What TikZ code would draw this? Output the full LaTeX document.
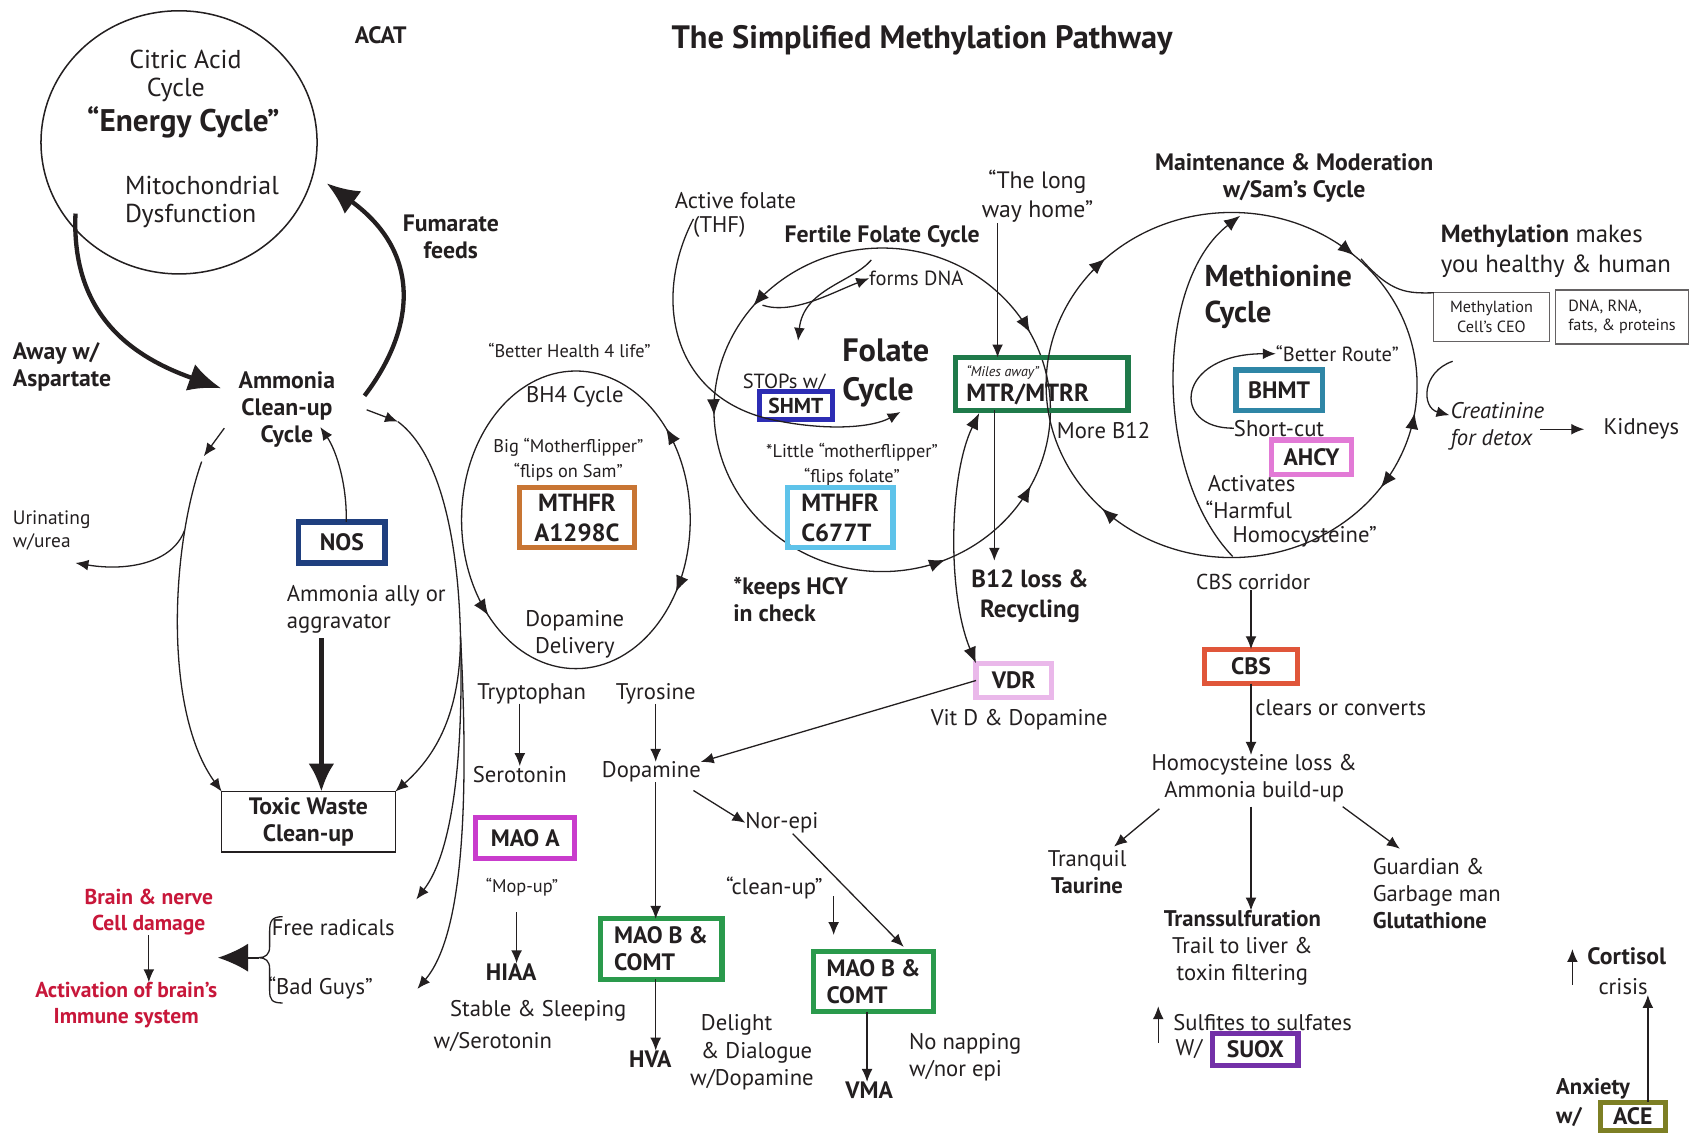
\documentclass[tikz,border=0pt]{standalone}
\usepackage{fontspec}
\setmainfont{PT Sans}
\usetikzlibrary{arrows.meta,calc,shapes.geometric}
\definecolor{ink}{HTML}{231F20}
\definecolor{cnavy}{HTML}{1F3F7F}
\definecolor{corange}{HTML}{C87533}
\definecolor{cblue}{HTML}{2D2DB4}
\definecolor{clblue}{HTML}{5EC3EA}
\definecolor{cdgreen}{HTML}{1F7A4A}
\definecolor{cteal}{HTML}{2F86A6}
\definecolor{cpink}{HTML}{E27AD6}
\definecolor{clpink}{HTML}{EAB8EA}
\definecolor{cred}{HTML}{E0563A}
\definecolor{cmag}{HTML}{C93CCC}
\definecolor{cgreen}{HTML}{2A9A4C}
\definecolor{cpurple}{HTML}{7330A8}
\definecolor{colive}{HTML}{7D7F24}
\definecolor{credtxt}{HTML}{C8173A}
\newcommand{\fs}[1]{\fontsize{#1}{\fpeval{#1*1.2}}\selectfont}
\newcommand{\ETip}[6]{\draw[tipline] ([shift={(#1,#2)}]#5:#3 and #4) arc[start angle=#5,end angle=#6,x radius=#3,y radius=#4];}
\begin{document}
\begin{tikzpicture}[x=0.5pt,y=-0.5pt,
  every node/.style={inner sep=0pt,outer sep=0pt,text=ink,align=center,font=\fontsize{10.5}{12.5}\selectfont},
  bf/.style={font=\bfseries\fontsize{11}{12.5}\selectfont},
  sm/.style={font=\fontsize{8.5}{11.5}\selectfont},
  ln/.style={draw=ink,line width=0.6pt},
  arr/.style={ln,-{Latex[length=6pt,width=5pt]}},
  thick arr/.style={draw=ink,line width=2pt,-{Latex[length=15pt,width=13pt]}},
  tipline/.style={draw=ink,line width=0.6pt,-{Latex[length=7.5pt,width=6pt]}},
  cbox/.style={draw=#1,line width=2.4pt,font=\bfseries\fontsize{11}{12.5}\selectfont},
  gbox/.style={draw=ink!70,line width=0.6pt}
]
\useasboundingbox (0,0) rectangle (1568,1055);
\fill[white] (0,0) rectangle (1568,1055);

% ---------- title ----------
\node[font=\bfseries\fontsize{15}{17}\selectfont] (title) at (855,37) {The Simplified Methylation Pathway};
\node[bf] (acat) at (353,33) {ACAT};

% ---------- energy cycle ----------
\node[draw=ink,line width=0.7pt,ellipse,minimum width=128pt,minimum height=122pt] (energy) at (166,132) {};
\node[font=\fs{12}] (citric) at (172,55) {Citric Acid};
\node[font=\fs{12}] (cyc0) at (163,83) {Cycle};
\node[font=\bfseries\fs{14.5}] (ecyc) at (170,113) {“Energy Cycle”};
\node[font=\fs{12},anchor=west] (mito) at (116,172) {Mitochondrial};
\node[font=\fs{12},anchor=west] (dys) at (116,200) {Dysfunction};
\node[bf] (fum) at (418,220) {Fumarate\\feeds};
\node[bf,anchor=west,align=left] (away) at (12,340) {Away w/\\Aspartate};
\node[bf] (amm) at (266,380) {Ammonia\\Clean-up\\Cycle};

\coordinate (e1) at (70,198);
\coordinate (a1) at (205,360);
\draw[thick arr] (e1) .. controls (66,290) and (120,330) .. (a1);
\coordinate (a2) at (338,367);
\coordinate (e2) at (303,170);
\draw[thick arr] (a2) .. controls (385,305) and (392,235) .. (e2);

% ---------- ammonia cycle ----------
\node[font=\fs{9},anchor=west,align=left] (urin) at (12,492) {Urinating\\w/urea};
\node[cbox=cnavy,minimum width=40pt,minimum height=19pt] (nos) at (317,503) {NOS};
\node[anchor=west,align=left] (ally) at (266,565) {Ammonia ally or\\aggravator};
\node[draw=ink,line width=0.6pt,minimum width=80.5pt,minimum height=28pt,bf] (toxic) at (286,762) {Toxic Waste\\Clean-up};

\draw[arr] (208,397) -- (189,423);
\draw[arr] (187,428) .. controls (158,510) and (152,660) .. (toxic.north west);
\draw[arr] (171,492) .. controls (160,522) and (118,530) .. (70,522);
\draw[arr] (nos.north) ++(4,0) .. controls (322,450) and (312,418) .. (297,396);
\draw[draw=ink,line width=2pt,-{Latex[length=13pt,width=12pt]}] (298,592) -- (toxic.north -| 298,0);

\draw[arr] (340,380) -- (369,391);
\coordinate (br) at (427,590);
\draw[ln] (369,391) .. controls (408,420) and (425,500) .. (br);
\draw[arr] (br) .. controls (427,660) and (405,700) .. (toxic.north east);
\node[anchor=west] (freer) at (252,860) {Free radicals};
\node[anchor=west] (bad) at (249,916) {“Bad Guys”};
\draw[arr] (br) .. controls (430,700) and (420,790) .. (386,834);
\draw[arr] (br) .. controls (436,760) and (427,870) .. (387,917);

% brace and brain
\draw[ln] (262,850) .. controls (252,850) and (250,854) .. (250,864) -- (250,878) .. controls (250,885) and (246,888) .. (240,888) .. controls (246,888) and (250,891) .. (250,898) -- (250,918) .. controls (250,927) and (252,930) .. (262,930);
\coordinate (bracetip) at (240,888);
\draw[draw=ink,line width=0.8pt,-{Latex[length=14pt,width=13pt]}] (bracetip) -- (202,888);
\node[font=\bfseries\fs{10},text=credtxt] (brain) at (138,846) {Brain \& nerve\\Cell damage};
\node[font=\bfseries\fs{10},text=credtxt] (activ) at (117,932) {Activation of brain's\\Immune system};
\draw[arr] (brain.south) -- (brain.south |- activ.north);

% ---------- BH4 ----------
\draw[ln] (534,482) ellipse [x radius=106, y radius=138];
\ETip{534}{482}{106}{138}{326}{322}
\ETip{534}{482}{106}{138}{26}{29}
\ETip{534}{482}{106}{138}{143}{140}
\node[sm] (bhl) at (528,325) {“Better Health 4 life”};
\node (bh4) at (533,368) {BH4 Cycle};
\node[sm] (bigm) at (527,426) {Big “Motherflipper”\\“flips on Sam”};
\node[cbox=corange,minimum width=53pt,minimum height=28pt,font=\bfseries\fs{11.5}] (m1) at (535,480) {MTHFR\\A1298C};
\node (dopdel) at (533,588) {Dopamine\\Delivery};

% ---------- folate ----------
\draw[ln] (818,380) ellipse [x radius=156, y radius=150];
\ETip{818}{380}{156}{150}{224}{220}
\ETip{818}{380}{156}{150}{181}{178}
\ETip{818}{380}{156}{150}{71}{68}
\ETip{818}{380}{156}{150}{31}{28}
\ETip{818}{380}{156}{150}{328}{331.5}
\node (act) at (682,186) {Active folate};
\node (thf) at (667,210) {(THF)};
\node[bf] (fert) at (818,219) {Fertile Folate Cycle};
\node[font=\fs{9.5},anchor=west] (fdna) at (806,258) {forms DNA};
\node[font=\bfseries\fs{15},anchor=west,align=left] (folc) at (781,346) {Folate\\Cycle};
\node[font=\fs{9.5}] (stops) at (727,355) {STOPs w/};
\node[cbox=cblue,minimum width=34pt,minimum height=13pt,font=\bfseries\fs{10}] (shmt) at (738,376) {SHMT};
\node[sm] (little) at (790,431) {*Little “motherflipper”\\“flips folate”};
\node[cbox=clblue,minimum width=49pt,minimum height=28pt,font=\bfseries\fs{11.5},align=left] (m2) at (779,480) {MTHFR\\C677T};
\node[bf,anchor=west,align=left] (keeps) at (680,556) {*keeps HCY\\in check};
\draw[arr] (643,203) .. controls (603,280) and (625,372) .. (720,390) .. controls (770,400) and (810,396) .. (835,382);
\draw[arr] (707,283) .. controls (735,292) and (770,272) .. (fdna.west);
\draw[arr] (808,241) .. controls (790,262) and (745,268) .. (740,316);

% MTR
\node[font=\fs{11}] (long) at (962,182) {“The long\\way home”};
\node[draw=cdgreen,line width=2.6pt,minimum width=80pt,minimum height=24.5pt] (mtr) at (966,356) {};
\node[font=\itshape\fs{6.5},anchor=west] (miles) at (896,345) {“Miles away”};
\node[font=\bfseries\fs{11.5},anchor=west] (mtrt) at (896,366) {MTR/MTRR};
\node[anchor=west] (more) at (980,399) {More B12};
\node[font=\bfseries\fs{11.5}] (b12) at (955,553) {B12 loss \&\\Recycling};
\node[cbox=clpink,minimum width=35pt,minimum height=16pt] (vdr) at (940,631) {VDR};
\node (vitd) at (945,667) {Vit D \& Dopamine};
\draw[arr] (925,207) -- (mtr.north -| 925,0);
\draw[arr] (mtr.south -| 922,0) -- (922,520);
\draw[ln,{Latex[length=7.5pt,width=6pt]}-{Latex[length=7.5pt,width=6pt]}] (908,383) .. controls (880,440) and (878,550) .. (vdr.north west);

% ---------- SAM / methionine ----------
\draw[ln] (1142,357) ellipse [x radius=172, y radius=160];
\ETip{1142}{357}{172}{160}{224}{227.1}
\ETip{1142}{357}{172}{160}{308}{311.3}
\ETip{1142}{357}{172}{160}{12}{9.3}
\ETip{1142}{357}{172}{160}{33}{36.5}
\ETip{1142}{357}{172}{160}{131}{134.4}
\draw[tipline] (1143,516) .. controls (1070,440) and (1070,262) .. (1150,200);
\node[bf] (maint) at (1200,165) {Maintenance \& Moderation\\w/Sam's Cycle};
\node[font=\fs{11.5},anchor=west,align=left] (mm) at (1336,233) {\textbf{Methylation} makes\\you healthy \& human};
\node[gbox,minimum width=53.5pt,minimum height=22.5pt,font=\fs{7.5}] (ceo) at (1383,294) {Methylation\\Cell's CEO};
\node[gbox,minimum width=61.5pt,minimum height=25pt,font=\fs{7.5},align=left] (dna) at (1504,294) {DNA, RNA,\\fats, \& proteins};
\draw[ln] (1262,240) .. controls (1290,272) and (1305,272) .. (ceo.north west);
\node[font=\bfseries\fs{14},anchor=west,align=left] (methc) at (1117,275) {Methionine\\Cycle};
\node[font=\fs{9.5}] (better) at (1240,328) {“Better Route”};
\node[cbox=cteal,minimum width=40pt,minimum height=19pt] (bhmt) at (1186,362) {BHMT};
\node (short) at (1186,397) {Short-cut};
\draw[arr] (short.west) .. controls (1085,398) and (1090,328) .. (better.west);
\node[cbox=cpink,minimum width=37pt,minimum height=16pt] (ahcy) at (1216,424) {AHCY};
\node[anchor=west] (acts) at (1120,448) {Activates};
\node[anchor=west] (harm) at (1118,473) {“Harmful};
\node[anchor=west] (homo) at (1143,498) {Homocysteine”};
\node[font=\itshape\fs{10.5},anchor=west,align=left] (creat) at (1345,395) {Creatinine\\for detox};
\node (kid) at (1522,398) {Kidneys};
\draw[arr] (1347,335) .. controls (1318,345) and (1318,378) .. (1344,385);
\draw[arr] (1428,398) -- ([xshift=-9pt]kid.west);

% CBS branch
\node[font=\fs{10}] (corr) at (1162,540) {CBS corridor};
\node[cbox=cred,minimum width=43pt,minimum height=16pt] (cbs) at (1160,618) {CBS};
\node[anchor=west] (clears) at (1164,656) {clears or converts};
\node (hcy) at (1163,722) {Homocysteine loss \&\\Ammonia build-up};
\node (tranq) at (1008,809) {Tranquil\\\textbf{Taurine}};
\node[anchor=west,align=left] (guard) at (1273,829) {Guardian \&\\Garbage man\\\textbf{Glutathione}};
\node (trans) at (1152,879) {\textbf{Transsulfuration}\\Trail to liver \&\\toxin filtering};
\draw[arr] (corr.south -| 1160,0) -- (cbs.north -| 1160,0);
\draw[arr] (cbs.south -| 1160,0) -- (1160,700);
\draw[arr] (1075,750) -- (1033,785);
\draw[arr] (1160,748) -- (trans.north -| 1160,0);
\draw[arr] (1245,748) -- (1298,787);
\node[anchor=west] (sulf) at (1088,948) {Sulfites to sulfates};
\node[anchor=west] (wsu) at (1090,973) {W/};
\node[cbox=cpurple,minimum width=39.5pt,minimum height=15pt] (suox) at (1164,973) {SUOX};
\draw[arr] (1074,967) -- (1074,933);
\node[bf,anchor=west] (cort) at (1472,887) {Cortisol};
\node (crisis) at (1505,915) {crisis};
\draw[arr] (1458,913) -- (1458,880);
\node[font=\bfseries\fs{10.5},anchor=west] (anx) at (1443,1010) {Anxiety};
\node[font=\bfseries\fs{10.5},anchor=west] (wace) at (1443,1036) {w/};
\node[cbox=colive,minimum width=30pt,minimum height=13pt] (ace) at (1514,1035) {ACE};
\draw[arr] (ace.north -| 1528,0) -- (crisis.south -| 1528,0);

% ---------- neurotransmitters ----------
\node (tryp) at (493,643) {Tryptophan};
\node (tyro) at (608,643) {Tyrosine};
\node (sero) at (482,718) {Serotonin};
\node (dopa) at (604,716) {Dopamine};
\node[cbox=cmag,minimum width=46pt,minimum height=19pt] (maoa) at (487,777) {MAO A};
\node[sm] (mop) at (484,823) {“Mop-up”};
\node[bf] (hiaa) at (474,901) {HIAA};
\node (stab) at (499,937) {Stable \& Sleeping};
\node (wsero) at (457,966) {w/Serotonin};
\node[cbox=cgreen,minimum width=56.5pt,minimum height=28pt,align=left] (mb1) at (613,880) {MAO B \&\\COMT};
\node[bf] (hva) at (603,982) {HVA};
\node[anchor=west] (deli) at (650,950) {Delight};
\node[anchor=west] (dial) at (650,976) {\& Dialogue};
\node[anchor=west] (wdop) at (640,1001) {w/Dopamine};
\node (nor) at (725,763) {Nor-epi};
\node (clean) at (718,823) {“clean-up”};
\node[cbox=cgreen,minimum width=55.5pt,minimum height=28pt,align=left] (mb2) at (810,910) {MAO B \&\\COMT};
\node[bf] (vma) at (806,1011) {VMA};
\node[anchor=west,align=left] (nonap) at (843,980) {No napping\\w/nor epi};
\draw[arr] (tryp.south -| 482,0) -- (sero.north -| 482,0);
\draw[arr] (tyro.south -| 608,0) -- (dopa.north -| 608,0);
\draw[arr] (dopa.south -| 608,0) -- (mb1.north -| 608,0);
\draw[arr] (mb1.south -| 608,0) -- (hva.north -| 608,0);
\draw[arr] (643,733) -- (nor.west);
\draw[arr] (735,773) -- (838,878);
\draw[arr] (773,831) -- (773,867);
\draw[arr] (479,846) -- (hiaa.north -| 479,0);
\draw[arr] (mb2.south -| 804,0) -- (vma.north -| 804,0);
\draw[arr] (vdr.west) -- (dopa.north east);

\end{tikzpicture}
\end{document}
